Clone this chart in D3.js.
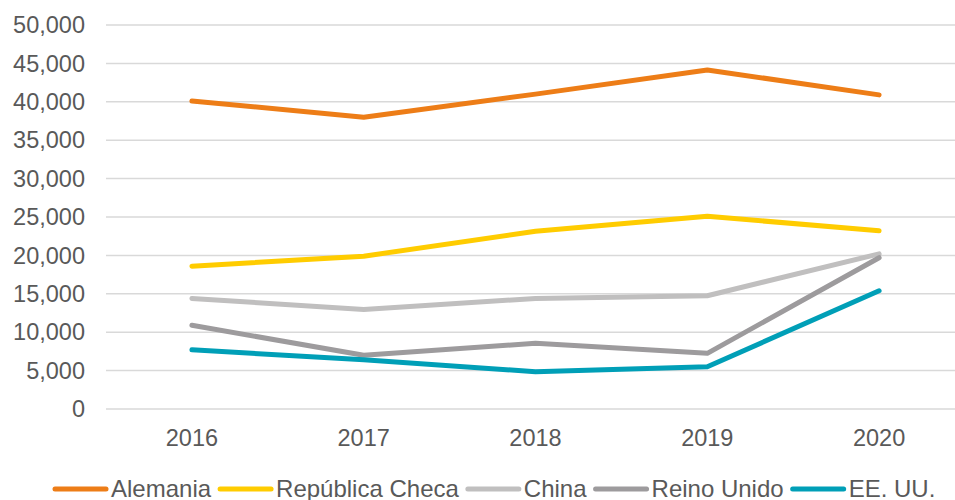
<!DOCTYPE html>
<html>
<head>
<meta charset="utf-8">
<script src="https://cdn.jsdelivr.net/npm/d3@7"></script>
<style>
  body { margin: 0; background: #fff; }
  text { font-family: "Liberation Sans", Arial, sans-serif; fill: #595959; }
</style>
</head>
<body>
<div id="canvas"></div>
<script>
// chart data
const years = ['2016', '2017', '2018', '2019', '2020'];
const seriesNames = ['Alemania', 'República Checa', 'China', 'Reino Unido', 'EE. UU.'];
const seriesColors = ['#ED7D17', '#FFCC00', '#C0BFBF', '#9D9B9D', '#009FB7'];
const alemania = [40100, 38000, 41000, 44150, 40900];
const republicaCheca = [18600, 19900, 23150, 25100, 23200];
const china = [14400, 12950, 14400, 14750, 20200];
const reinoUnido = [10900, 7000, 8550, 7250, 19700];
const eeuu = [7700, 6400, 4850, 5500, 15400];
const yTicks = [0, 5000, 10000, 15000, 20000, 25000, 30000, 35000, 40000, 45000, 50000];

const allSeries = [alemania, republicaCheca, china, reinoUnido, eeuu];

const width = 955;
const height = 500;

const svg = d3.select('#canvas')
  .append('svg')
  .attr('width', width)
  .attr('height', height);

// scales
const x = d3.scaleBand()
  .domain(years)
  .range([106, 965]);

const y = d3.scaleLinear()
  .domain([0, 50000])
  .range([409, 25]);

// gridlines
svg.append('g')
  .selectAll('line')
  .data(yTicks)
  .enter()
  .append('line')
  .attr('x1', 106)
  .attr('x2', 965)
  .attr('y1', d => y(d))
  .attr('y2', d => y(d))
  .style('stroke', '#D9D9D9')
  .style('stroke-width', 1.5);

// y axis labels
const fmt = d3.format(',');
svg.append('g')
  .selectAll('text')
  .data(yTicks)
  .enter()
  .append('text')
  .attr('x', 85)
  .attr('y', d => y(d))
  .attr('dy', '0.35em')
  .attr('text-anchor', 'end')
  .style('font-size', '23.5px')
  .text(d => fmt(d));

// x axis labels
svg.append('g')
  .selectAll('text')
  .data(years)
  .enter()
  .append('text')
  .attr('x', d => x(d) + x.bandwidth() / 2)
  .attr('y', 446)
  .attr('text-anchor', 'middle')
  .style('font-size', '23.5px')
  .text(d => d);

// lines
const line = d3.line()
  .x((d, i) => x(years[i]) + x.bandwidth() / 2)
  .y(d => y(d));

svg.append('g')
  .selectAll('path')
  .data(allSeries)
  .enter()
  .append('path')
  .attr('d', line)
  .style('fill', 'none')
  .style('stroke', (d, i) => seriesColors[i])
  .style('stroke-width', 5)
  .style('stroke-linecap', 'round')
  .style('stroke-linejoin', 'round');

// legend (bottom, slightly clipped like the original)
const legend = svg.append('g').attr('class', 'legend');
let cursor = 0;
seriesNames.forEach((name, i) => {
  const item = legend.append('g').attr('transform', `translate(${cursor},0)`);
  item.append('line')
    .attr('x1', 2)
    .attr('x2', 53)
    .attr('y1', 489)
    .attr('y2', 489)
    .style('stroke', seriesColors[i])
    .style('stroke-width', 5)
    .style('stroke-linecap', 'round');
  const t = item.append('text')
    .attr('x', 58)
    .attr('y', 497)
    .style('font-size', '24px')
    .text(name);
  cursor += 58 + t.node().getComputedTextLength() + 7;
});
legend.attr('transform', `translate(${53},0)`);
</script>
</body>
</html>
